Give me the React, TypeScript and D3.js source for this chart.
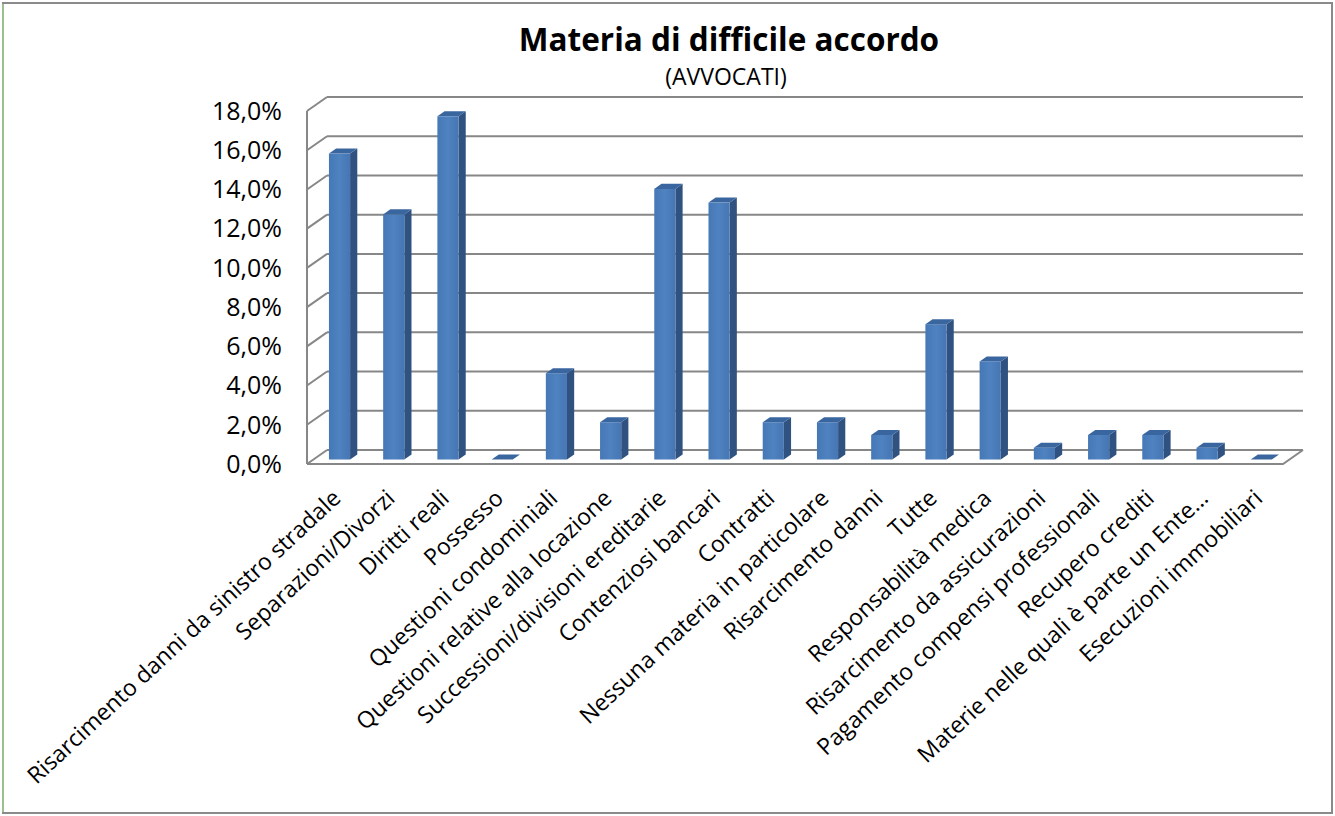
import React from "react";
import * as d3 from "d3";

const categories = [
  "Risarcimento danni da sinistro stradale",
  "Separazioni/Divorzi",
  "Diritti reali",
  "Possesso",
  "Questioni condominiali",
  "Questioni relative alla locazione",
  "Successioni/divisioni ereditarie",
  "Contenziosi bancari",
  "Contratti",
  "Nessuna materia in particolare",
  "Risarcimento danni",
  "Tutte",
  "Responsabilità medica",
  "Risarcimento da assicurazioni",
  "Pagamento compensi professionali",
  "Recupero crediti",
  "Materie nelle quali è parte un Ente…",
  "Esecuzioni immobiliari",
];

const values = [15.6, 12.5, 17.5, 0, 4.4, 1.9, 13.8, 13.1, 1.9, 1.9, 1.25, 6.9, 5.0, 0.6, 1.25, 1.25, 0.6, 0];

const yTicks = [0, 2, 4, 6, 8, 10, 12, 14, 16, 18];

const W = 1335;
const H = 816;
const FONT = "'Open Sans', 'Noto Sans', sans-serif";

export default function App() {
  const x0 = 307;
  const x1 = 1283;
  const DX = 20;
  const DY = 14;
  const x = d3.scaleBand<string>().domain(categories).range([x0, x1]).padding(0);
  const y = d3.scaleLinear().domain([0, 18]).range([464, 111]);
  const P = (px: number, v: number, z: number): [number, number] => [px + z * DX, y(v) - z * DY];
  const poly = (pts: [number, number][]) => pts.map((p) => p.join(",")).join(" ");

  const bw = x.bandwidth() * 0.39;
  const z0 = 0.32;
  const z1 = 0.68;
  const gridColor = "#878787";

  return (
    <svg
      width={W}
      height={H}
      style={{ position: "absolute", left: 0, top: 0, background: "#fff" }}
      fontFamily={FONT}
    >
      <defs>
        <linearGradient id="frontGrad" x1="0" x2="1" y1="0" y2="0">
          <stop offset="0" stopColor="#4678b6" />
          <stop offset="0.5" stopColor="#4f82c0" />
          <stop offset="1" stopColor="#4676b3" />
        </linearGradient>
      </defs>
      <rect x={3} y={3} width={W - 6} height={H - 6} fill="#fff" stroke="#8a8a8a" strokeWidth={2} />
      <line x1={3} y1={4} x2={3} y2={H - 4} stroke="#9cbf8f" strokeWidth={2} />

      {/* Title */}
      <text x={729} y={51} textAnchor="middle" fontSize={31.5} fontWeight="bold" fill="#000">
        Materia di difficile accordo
      </text>
      <text x={726} y={85} textAnchor="middle" fontSize={23} fill="#000">
        (AVVOCATI)
      </text>

      {/* Gridlines on back wall and left side wall */}
      {yTicks.map((t) => {
        const a = P(x0, t, 0);
        const b = P(x0, t, 1);
        const c = P(x1, t, 1);
        return (
          <g key={t}>
            <line x1={a[0]} y1={a[1]} x2={b[0]} y2={b[1]} stroke={gridColor} strokeWidth={2} />
            <line x1={b[0]} y1={b[1]} x2={c[0]} y2={c[1]} stroke={gridColor} strokeWidth={2} />
          </g>
        );
      })}
      {/* Left wall front edge */}
      <line x1={x0} y1={y(18)} x2={x0} y2={y(0)} stroke={gridColor} strokeWidth={2} />
      {/* Floor */}
      <polyline
        points={poly([P(x0, 0, 0), P(x1, 0, 0), P(x1, 0, 1)])}
        fill="none"
        stroke={gridColor}
        strokeWidth={2}
      />

      {/* Y tick labels */}
      {yTicks.map((t) => (
        <text key={t} x={282} y={y(t)} dy="0.35em" textAnchor="end" fontSize={25} fill="#000">
          {t.toFixed(1).replace(".", ",") + "%"}
        </text>
      ))}

      {/* Bars */}
      {categories.map((c, i) => {
        const v = values[i];
        const bx = (x(c) as number) + (x.bandwidth() - bw) / 2 - 1;
        const bxr = bx + bw;
        const f0 = P(bx, v, z0);
        const f1 = P(bxr, 0, z0);
        const top = poly([P(bx, v, z0), P(bxr, v, z0), P(bxr, v, z1), P(bx, v, z1)]);
        const side = poly([P(bxr, v, z0), P(bxr, v, z1), P(bxr, 0, z1), P(bxr, 0, z0)]);
        return (
          <g key={c}>
            {v > 0 && <polygon points={side} fill="#2f5280" />}
            {v > 0 && (
              <rect x={f0[0]} y={f0[1]} width={f1[0] - f0[0]} height={f1[1] - f0[1]} fill="url(#frontGrad)" />
            )}
            <polygon points={top} fill="#3a66a0" />
          </g>
        );
      })}

      {/* Category labels */}
      {categories.map((c) => {
        const cx = (x(c) as number) + x.bandwidth() / 2 + 8;
        const cy = 500;
        return (
          <text
            key={c}
            x={cx}
            y={cy}
            textAnchor="end"
            fontSize={23}
            fill="#000"
            transform={`rotate(-43 ${cx} ${cy})`}
          >
            {c}
          </text>
        );
      })}
    </svg>
  );
}
